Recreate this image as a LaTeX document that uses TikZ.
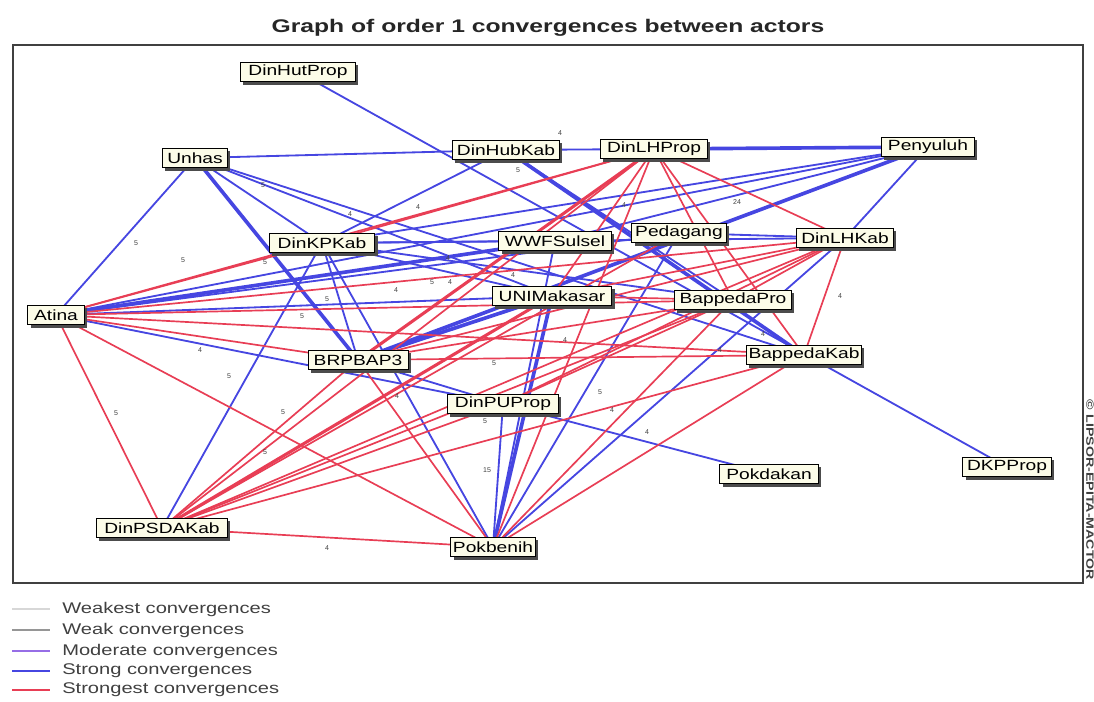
\documentclass[tikz,border=0pt]{standalone}
\usepackage{fontspec}
\setmainfont{Liberation Sans}
\newfontfamily\nodefont[FakeStretch=1.3]{Liberation Sans}
\newfontfamily\titlefont[FakeStretch=1.35]{Liberation Sans}
\usetikzlibrary{shadows,backgrounds}
\definecolor{sblue}{RGB}{70,70,225}
\definecolor{sred}{RGB}{232,62,85}
\definecolor{cream}{RGB}{252,252,232}
\definecolor{mpurple}{RGB}{150,110,230}
\definecolor{wgray}{RGB}{150,150,150}
\definecolor{lgray}{RGB}{215,215,215}
\begin{document}
\begin{tikzpicture}[x=0.025cm,y=-0.025cm,
  actor/.style={draw=black, line width=0.6pt, fill=cream,
    font=\nodefont\fontsize{10.5}{11}\selectfont,
    inner xsep=1.5pt, inner ysep=1pt, minimum height=14pt,
    drop shadow={shadow xshift=2pt, shadow yshift=-2pt, opacity=1, fill=black!70}},
  sb/.style={draw=sblue, line width=1.3pt},
  SB/.style={draw=sblue, line width=2.6pt},
  sr/.style={draw=sred, line width=1.2pt},
  SR/.style={draw=sred, line width=2.2pt},
  lbl/.style={font=\fontsize{5}{5}\selectfont, text=black!75, inner sep=0pt},
  legtxt/.style={font=\nodefont\fontsize{11}{12}\selectfont, text=black!75, anchor=west, inner sep=0pt}]
\useasboundingbox (0,0) rectangle (1094,702);
% title and frame
\node[font=\titlefont\bfseries\fontsize{13}{15}\selectfont, text=black!85] (title) at (548,28) {Graph of order 1 convergences between actors};
\draw[line width=1pt, draw=black!75] (13,45) rectangle (1083,583);
\node[rotate=-90, font=\titlefont\bfseries\fontsize{7.5}{8}\selectfont, text=black!75] (copy) at (1090,490) {© LIPSOR-EPITA-MACTOR};
% actors
\node[actor, minimum width=82pt] (hutp) at (298,72) {DinHutProp};
\node[actor, minimum width=46pt] (unhas) at (195,158) {Unhas};
\node[actor, minimum width=76pt] (hubk) at (506,150) {DinHubKab};
\node[actor, minimum width=76pt] (lhp) at (654,149) {DinLHProp};
\node[actor, minimum width=66pt] (peny) at (928,147) {Penyuluh};
\node[actor, minimum width=75pt] (kpk) at (322,243) {DinKPKab};
\node[actor, minimum width=80pt] (wwf) at (555,241) {WWFSulsel};
\node[actor, minimum width=67pt] (peda) at (679,233) {Pedagang};
\node[actor, minimum width=69pt] (lhk) at (845,238) {DinLHKab};
\node[actor, minimum width=40pt] (atina) at (56,315) {Atina};
\node[actor, minimum width=85pt] (uni) at (552,296) {UNIMakasar};
\node[actor, minimum width=83pt] (bpro) at (733,300) {BappedaPro};
\node[actor, minimum width=71pt] (brp) at (358,360) {BRPBAP3};
\node[actor, minimum width=77pt] (bkab) at (804,355) {BappedaKab};
\node[actor, minimum width=79pt] (pup) at (503,404) {DinPUProp};
\node[actor, minimum width=70pt] (pokd) at (769,474) {Pokdakan};
\node[actor, minimum width=63pt] (dkp) at (1007,467) {DKPProp};
\node[actor, minimum width=93pt] (psda) at (162,528) {DinPSDAKab};
\node[actor, minimum width=57pt] (pokb) at (493,547) {Pokbenih};
% connectors
\begin{scope}[on background layer]
% strong (blue)
\draw[sb] (hutp.center) -- (dkp.center);
\draw[sb] (unhas.center) -- (hubk.center);
\draw[sb] (hubk.center) -- (lhp.center);
\draw[SB] (lhp.center) -- (peny.center);
\draw[sb] (unhas.center) -- (atina.center);
\draw[SB] (unhas.center) -- (brp.center);
\draw[sb] (unhas.center) -- (kpk.center);
\draw[sb] (unhas.center) -- (uni.center);
\draw[sb] (unhas.center) -- (bkab.center);
\draw[sb] (hubk.center) -- (kpk.center);
\draw[sb] (hubk.center) -- (bpro.center);
\draw[SB] (hubk.center) -- (bkab.center);
\draw[sb] (kpk.center) -- (wwf.center);
\draw[sb] (kpk.center) -- (lhk.center);
\draw[sb] (kpk.center) -- (peny.center);
\draw[sb] (kpk.center) -- (brp.center);
\draw[sb] (kpk.center) -- (pokb.center);
\draw[sb] (kpk.center) -- (psda.center);
\draw[sb] (kpk.center) -- (uni.center);
\draw[sb] (kpk.center) -- (bpro.center);
\draw[SB] (brp.center) -- (peny.center);
\draw[sb] (peny.center) -- (lhk.center);
\draw[sb] (peda.center) -- (lhk.center);
\draw[sb] (wwf.center) -- (peny.center);
\draw[sb] (atina.center) -- (peny.center);
\draw[SB] (atina.center) -- (wwf.center);
\draw[sb] (atina.center) -- (uni.center);
\draw[sb] (atina.center) -- (pup.center);
\draw[sb] (atina.center) -- (peda.center);
\draw[SB] (brp.center) -- (uni.center);
\draw[sb] (brp.center) -- (pup.center);
\draw[sb] (pup.center) -- (pokd.center);
\draw[sb] (pokb.center) -- (pup.center);
\draw[SB] (pokb.center) -- (uni.center);
\draw[sb] (pokb.center) -- (wwf.center);
\draw[sb] (pokb.center) -- (peda.center);
\draw[sb] (pokb.center) -- (lhk.center);
% strongest (red)
\draw[sr] (atina.center) -- (kpk.center);
\draw[sr] (atina.center) -- (lhp.center);
\draw[sr] (atina.center) -- (lhk.center);
\draw[sr] (atina.center) -- (bpro.center);
\draw[sr] (atina.center) -- (bkab.center);
\draw[sr] (atina.center) -- (brp.center);
\draw[sr] (atina.center) -- (psda.center);
\draw[sr] (atina.center) -- (pokb.center);
\draw[sr] (kpk.center) -- (lhp.center);
\draw[SR] (lhp.center) -- (brp.center);
\draw[sr] (lhp.center) -- (psda.center);
\draw[sr] (lhp.center) -- (uni.center);
\draw[sr] (lhp.center) -- (pokb.center);
\draw[sr] (lhp.center) -- (bpro.center);
\draw[sr] (lhp.center) -- (bkab.center);
\draw[sr] (lhp.center) -- (lhk.center);
\draw[sr] (lhk.center) -- (brp.center);
\draw[sr] (lhk.center) -- (psda.center);
\draw[sr] (lhk.center) -- (uni.center);
\draw[sr] (lhk.center) -- (bkab.center);
\draw[sr] (lhk.center) -- (bpro.center);
\draw[sr] (lhk.center) -- (pup.center);
\draw[sr] (bpro.center) -- (brp.center);
\draw[sr] (bpro.center) -- (psda.center);
\draw[sr] (bpro.center) -- (pokb.center);
\draw[sr] (bpro.center) -- (uni.center);
\draw[sr] (bpro.center) -- (pup.center);
\draw[sr] (bkab.center) -- (brp.center);
\draw[sr] (bkab.center) -- (psda.center);
\draw[sr] (bkab.center) -- (pokb.center);
\draw[sr] (brp.center) -- (pokb.center);
\draw[sr] (brp.center) -- (psda.center);
\draw[sr] (psda.center) -- (pokb.center);
\draw[SR] (psda.center) -- (uni.center);
\draw[sr] (psda.center) -- (pup.center);
\draw[sr] (psda.center) -- (peda.center);
\end{scope}
% small intensity labels
\foreach \x/\y/\t in {136/243/5, 183/260/5, 263/185/5, 350/214/4, 418/207/4,
  560/133/4, 518/170/5, 624/205/4, 737/202/24, 265/262/5, 302/316/5, 327/299/5,
  396/290/4, 432/282/5, 450/282/4, 200/350/4, 229/376/5, 116/413/5, 283/412/5,
  265/452/5, 327/548/4, 487/470/15, 397/396/4, 494/363/5, 565/340/4, 600/392/5,
  647/432/4, 840/296/4, 763/334/4, 720/350/4, 485/421/5, 612/410/4, 448/258/4, 513/275/4}
  \node[lbl] at (\x,\y) {\t};
% legend
\draw[lgray, line width=0.8pt] (12,609) -- (50,609);
\node[legtxt] (l1) at (62,609) {Weakest convergences};
\draw[wgray, line width=0.8pt] (12,630) -- (50,630);
\node[legtxt] (l2) at (62,630) {Weak convergences};
\draw[mpurple, line width=0.8pt] (12,651) -- (50,651);
\node[legtxt] (l3) at (62,651) {Moderate convergences};
\draw[sblue, line width=2pt] (12,671) -- (50,671);
\node[legtxt] (l4) at (62,671) {Strong convergences};
\draw[sred, line width=1.5pt] (12,690) -- (50,690);
\node[legtxt] (l5) at (62,690) {Strongest convergences};
\end{tikzpicture}
\end{document}
